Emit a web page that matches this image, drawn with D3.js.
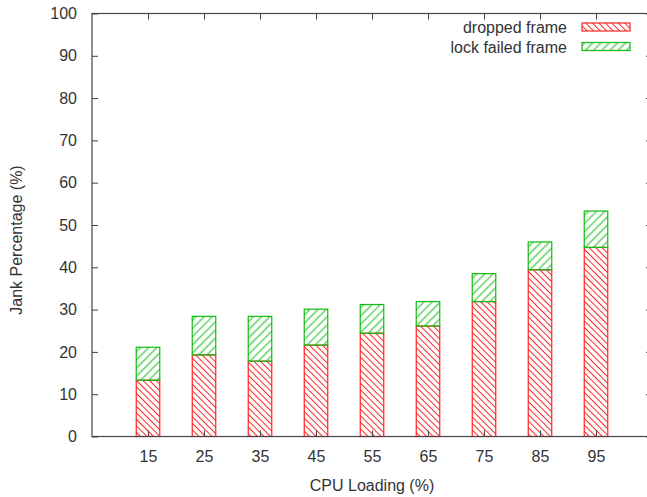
<!DOCTYPE html>
<html>
<head>
<meta charset="utf-8">
<script src="https://cdn.jsdelivr.net/npm/d3@7"></script>
<style>
  html, body { margin: 0; padding: 0; background: #fff; }
  svg { display: block; }
  text { font-family: "Liberation Sans", Arial, sans-serif; fill: #333; }
</style>
</head>
<body>
<svg id="chart" width="647" height="497"></svg>
<script>
// CPU load levels and jank percentages per frame type (stacked)
const cpuLoading = [15, 25, 35, 45, 55, 65, 75, 85, 95];
const droppedFrame = [13.3, 19.3, 17.8, 21.6, 24.4, 26.1, 31.9, 39.4, 44.7];
const lockFailedFrame = [7.8, 9.1, 10.6, 8.5, 6.8, 5.8, 6.6, 6.6, 8.6];
const yTicks = [0, 10, 20, 30, 40, 50, 60, 70, 80, 90, 100];
const seriesNames = ["dropped frame", "lock failed frame"];

const svg = d3.select("#chart");
const plotLeft = 92, plotRight = 652, plotTop = 13.5, plotBottom = 436.5;

const x = d3.scaleLinear().domain([5, 105]).range([plotLeft, plotRight]);
const y = d3.scaleLinear().domain([0, 100]).range([plotBottom, plotTop]);
const boxWidth = 4.2;

// Hatch fills
const defs = svg.append("defs");
function hatch(id, color, spacing, angle) {
  const p = defs.append("pattern")
    .attr("id", id)
    .attr("patternUnits", "userSpaceOnUse")
    .attr("width", spacing).attr("height", spacing)
    .attr("patternTransform", `rotate(${angle})`);
  p.append("line")
    .attr("x1", spacing / 2).attr("y1", -1)
    .attr("x2", spacing / 2).attr("y2", spacing + 1)
    .attr("stroke", color).attr("stroke-width", 1);
}
hatch("hatchRed", "#f22", 4.6, -45);
hatch("hatchGreen", "#1b1", 5.8, 45);

const colors = ["#f22", "#1b1"];
const fills = ["url(#hatchRed)", "url(#hatchGreen)"];

// Stack the two series
const rows = cpuLoading.map((c, i) => ({ cpu: c, dropped: droppedFrame[i], lock: lockFailedFrame[i] }));
const stack = d3.stack().keys(["dropped", "lock"])(rows);

stack.forEach((layer, li) => {
  svg.append("g").selectAll("rect")
    .data(layer)
    .join("rect")
    .attr("x", d => x(d.data.cpu - boxWidth / 2))
    .attr("width", d => x(d.data.cpu + boxWidth / 2) - x(d.data.cpu - boxWidth / 2))
    .attr("y", d => y(d[1]))
    .attr("height", d => y(d[0]) - y(d[1]))
    .attr("fill", fills[li])
    .attr("stroke", colors[li])
    .attr("stroke-width", 1.2);
});

// Frame and axes
const axisColor = "#444";
svg.append("rect")
  .attr("x", plotLeft).attr("y", plotTop)
  .attr("width", plotRight - plotLeft).attr("height", plotBottom - plotTop)
  .attr("fill", "none").attr("stroke", axisColor).attr("stroke-width", 1.2);

const yAxis = d3.axisLeft(y).tickValues(yTicks).tickSize(-6).tickPadding(15).tickFormat(d3.format("d"));
const gy = svg.append("g").attr("transform", `translate(${plotLeft},0)`).call(yAxis);
gy.select(".domain").remove();
gy.selectAll("line").attr("stroke", axisColor);
gy.selectAll("text").attr("font-size", 16).attr("fill", "#333").attr("font-family", "Liberation Sans, Arial, sans-serif");

const yAxisR = d3.axisRight(y).tickValues(yTicks).tickSize(-6).tickFormat("");
const gyr = svg.append("g").attr("transform", `translate(${plotRight},0)`).call(yAxisR);
gyr.select(".domain").remove();
gyr.selectAll("line").attr("stroke", axisColor);

const xAxis = d3.axisBottom(x).tickValues(cpuLoading).tickSize(-6).tickPadding(14);
const gx = svg.append("g").attr("transform", `translate(0,${plotBottom})`).call(xAxis);
gx.select(".domain").remove();
gx.selectAll("line").attr("stroke", axisColor);
gx.selectAll("text").attr("font-size", 16).attr("fill", "#333").attr("font-family", "Liberation Sans, Arial, sans-serif");

const xAxisT = d3.axisTop(x).tickValues(cpuLoading).tickSize(-6).tickFormat("");
const gxt = svg.append("g").attr("transform", `translate(0,${plotTop})`).call(xAxisT);
gxt.select(".domain").remove();
gxt.selectAll("line").attr("stroke", axisColor);

// Axis titles
svg.append("text")
  .attr("x", 372).attr("y", 491)
  .attr("text-anchor", "middle").attr("font-size", 16)
  .text("CPU Loading (%)");
svg.append("text")
  .attr("transform", "translate(22,240) rotate(-90)")
  .attr("text-anchor", "middle").attr("font-size", 16)
  .text("Jank Percentage (%)");

// Legend
const legend = svg.append("g");
seriesNames.forEach((name, i) => {
  const cy = 27 + i * 19.5;
  legend.append("text")
    .attr("x", 567).attr("y", cy + 6)
    .attr("text-anchor", "end").attr("font-size", 16)
    .text(name);
  legend.append("rect")
    .attr("x", 582).attr("y", cy - 4)
    .attr("width", 48).attr("height", 8)
    .attr("fill", fills[i]).attr("stroke", colors[i]).attr("stroke-width", 1.2);
});
</script>
</body>
</html>
